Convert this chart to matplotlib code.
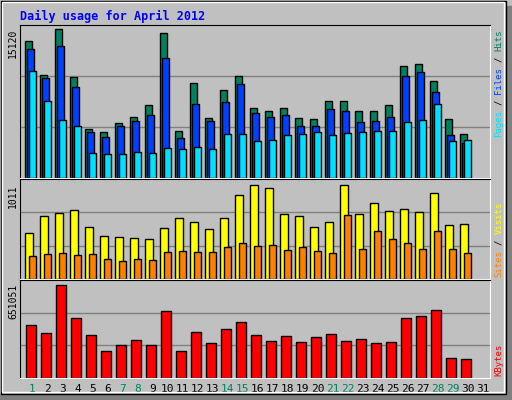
import matplotlib
matplotlib.use("Agg")
import matplotlib.pyplot as plt
from matplotlib.patches import Rectangle
import numpy as np

days = list(range(1, 32))
weekend = [1, 7, 8, 14, 15, 21, 22, 28, 29]

hits = [13900, 10420, 15120, 10220, 5010, 4700, 5620, 6230, 7360, 14720, 4800, 9610, 6130, 8890, 10320,
        7150, 6750, 7150, 6130, 6030, 7770, 7770, 6750, 6750, 7360, 11340, 11550, 9810, 6030, 4500]
files = [13080, 10120, 13390, 9200, 4700, 4190, 5310, 5830, 6440, 12160, 4090, 7460, 5830, 7670, 9500,
         6640, 6230, 6440, 5310, 5310, 7050, 6750, 5720, 5830, 6230, 10320, 10730, 8690, 4390, 3580]
pages = [10830, 7770, 5930, 5310, 2560, 2450, 2450, 2660, 2560, 3070, 2960, 3170, 2960, 4500, 4500,
         3780, 3880, 4390, 4500, 4700, 4390, 4600, 4700, 4800, 4800, 5720, 5930, 7460, 3780, 3880]
visits = [496, 671, 704, 737, 562, 463, 452, 441, 430, 551, 649, 616, 540, 649, 901,
          1011, 978, 693, 671, 562, 606, 1011, 693, 814, 726, 748, 715, 923, 584, 595]
sites = [244, 266, 277, 255, 266, 211, 189, 211, 200, 288, 299, 288, 288, 343, 387,
         354, 365, 310, 343, 299, 277, 682, 321, 518, 430, 387, 321, 518, 321, 277]
kbytes = [373000, 316000, 651051, 416000, 302000, 188000, 230000, 266000, 230000, 466000, 188000, 323000,
          245000, 344000, 394000, 302000, 259000, 295000, 252000, 287000, 309000, 259000, 273000, 245000,
          252000, 416000, 430000, 473000, 138000, 130000]

C_HITS, C_FILES, C_PAGES = "#00805F", "#0040FF", "#00E0FF"
C_VISITS, C_SITES, C_KB = "#FFFF00", "#FF8000", "#FF0000"
BG = "#C0C0C0"
W, H = 512, 400
MONO = "DejaVu Sans Mono"

fig = plt.figure(figsize=(W / 100, H / 100), dpi=100, facecolor=BG)

# outer frame + shadow
fig.patches.append(Rectangle((506 / W, 0), 6 / W, 394 / H, transform=fig.transFigure, color="#808080"))
fig.patches.append(Rectangle((0, 0), 512 / W, 6 / H, transform=fig.transFigure, color="#808080"))
fig.patches.append(Rectangle((0.5 / W, 6.5 / H), 505 / W, 393 / H, transform=fig.transFigure,
                             fill=False, edgecolor="black", lw=1))
fig.patches.append(Rectangle((2 / W, 8 / H), 502 / W, 390 / H, transform=fig.transFigure,
                             fill=False, edgecolor="white", lw=1))


def panel(top, bottom):
    ax = fig.add_axes([20 / W, 1 - bottom / H, 470 / W, (bottom - top) / H])
    ax.set_facecolor(BG)
    ax.set_xlim(-1 / 3, 31)
    for s in ("left", "top"):
        ax.spines[s].set_color("black")
    for s in ("right", "bottom"):
        ax.spines[s].set_color("white")
    ax.set_xticks([])
    ax.set_yticks([])
    return ax


x = np.arange(30)
ec = dict(edgecolor="black", linewidth=1, align="edge")

# top panel
ax1 = panel(25, 178)
ymax1 = 15120 * 152 / 148
ax1.set_ylim(0, ymax1)
for f in (1 / 3, 2 / 3):
    ax1.axhline(ymax1 * f, color="#808080", lw=1, zorder=0)
ax1.bar(x, hits, width=7 / 15, color=C_HITS, **ec)
ax1.bar(x + 2 / 15, files, width=7 / 15, color=C_FILES, **ec)
ax1.bar(x + 4 / 15, pages, width=7 / 15, color=C_PAGES, **ec)

# middle panel
ax2 = panel(179, 279)
ymax2 = 1011 * 98 / 92.4
ax2.set_ylim(0, ymax2)
for f in (1 / 3, 2 / 3):
    ax2.axhline(ymax2 * f, color="#808080", lw=1, zorder=0)
ax2.bar(x, visits, width=8 / 15, color=C_VISITS, **ec)
ax2.bar(x + 4 / 15, sites, width=7 / 15, color=C_SITES, **ec)

# bottom panel
ax3 = panel(280, 378)
ymax3 = 651051 * 96 / 91.3
ax3.set_ylim(0, ymax3)
for f in (1 / 3, 2 / 3):
    ax3.axhline(ymax3 * f, color="#808080", lw=1, zorder=0)
ax3.bar(x + 1 / 15, kbytes, width=10 / 15, color=C_KB, **ec)
ax3.set_xticks(np.arange(31) + 0.5)
ax3.set_xticklabels([str(d) for d in days], fontsize=8, family=MONO)
ax3.tick_params(axis="x", length=0, pad=4)
for lbl, d in zip(ax3.get_xticklabels(), days):
    lbl.set_color(C_HITS if d in weekend else "black")

# title
fig.text(20 / W, 1 - 16 / H, "Daily usage for April 2012", color="#0000FF", fontsize=8.5,
         fontweight="bold", family=MONO, va="center", ha="left")

# left max labels
for txt, ytop in (("15120", 29), ("1011", 184), ("651051", 284)):
    fig.text(13 / W, 1 - ytop / H, txt, rotation=90, fontsize=7, family=MONO, ha="center", va="top")

# right side multi-coloured labels
cw = 5.35
def side(parts, ybottom):
    off = 0
    for txt, col in parts:
        fig.text(499 / W, 1 - (ybottom - off * cw) / H, txt, rotation=90, color=col, fontsize=6.5,
                 family=MONO, ha="center", va="bottom")
        off += len(txt) + 1

side([("Pages", C_PAGES), ("/", "black"), ("Files", C_FILES), ("/", "black"), ("Hits", C_HITS)], 137)
side([("Sites", C_SITES), ("/", "black"), ("Visits", C_VISITS)], 277)
side([("KBytes", C_KB)], 376)

fig.savefig("out.png", dpi=100, facecolor=BG)
